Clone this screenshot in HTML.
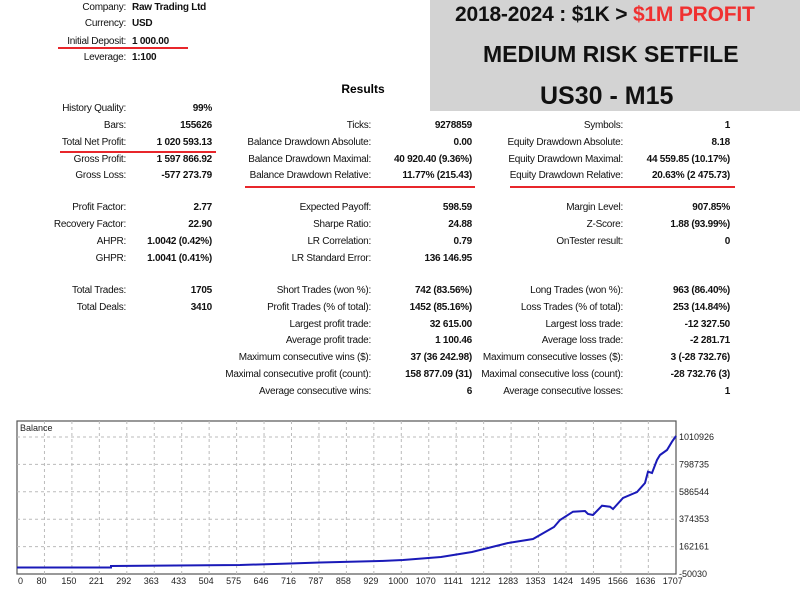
<!DOCTYPE html>
<html><head><meta charset="utf-8"><style>
body{margin:0;width:800px;height:600px;background:#fff;position:relative;overflow:hidden;font-family:"Liberation Sans",sans-serif;}
.l,.v{position:absolute;font-size:10px;letter-spacing:-0.25px;line-height:12px;white-space:nowrap;color:#111;}
.l{text-align:right;}
.v{font-weight:bold;text-align:right;}
.hl{position:absolute;height:2px;background:#e8262b;}
.hd{position:absolute;font-weight:900;color:#111;white-space:nowrap;font-family:"Liberation Sans",sans-serif;}
</style></head><body>
<div style="position:absolute;left:430px;top:0;width:370px;height:111px;background:#d3d3d3"></div>
<div class="hd" style="left:455px;top:3px;font-size:21px;letter-spacing:-0.2px">2018-2024 : $1K &gt; <span style="color:#f03030">$1M PROFIT</span></div>
<div class="hd" style="left:483px;top:41px;font-size:23px;letter-spacing:0px">MEDIUM RISK SETFILE</div>
<div class="hd" style="left:540px;top:82px;font-size:25px;">US30 - M15</div>

<div style="position:absolute;left:320px;top:82px;width:86px;text-align:center;font-weight:bold;font-size:12px">Results</div>

<div id="c"></div>
<div class="hl" style="left:58px;top:47px;width:130px"></div>
<div class="hl" style="left:60px;top:151px;width:156px"></div>
<div class="hl" style="left:245px;top:186px;width:230px"></div>
<div class="hl" style="left:510px;top:186px;width:225px"></div>

<svg style="position:absolute;left:0;top:0" width="800" height="600">
<rect x="17" y="421" width="659" height="153" fill="#fff" stroke="#555" stroke-width="1.2"/>
<g stroke="#bbb" stroke-dasharray="3,3" stroke-width="1" id="g"></g>
<text x="20" y="431" font-size="9" font-family="Liberation Sans" fill="#222">Balance</text>
<polyline fill="none" stroke="#1a1ab8" stroke-width="2" points="17,567.5 111,567.5 111,566 240,565 290,563.5 320,562.5 380,561 403,560 441,557 472,552 508,543 533,539 554,527 560,520 573,511.7 585,511 588,514 593,515 602,505.7 610,506.7 613,509 623,498 637,492 645,483 648,471.7 652,473 657,460 660,455 667,450 672,441.7 676,436"/>
<g font-size="9" font-family="Liberation Sans" fill="#222" id="t"></g>
</svg>
<script>
var g=document.getElementById('g'),t=document.getElementById('t'),ns='http://www.w3.org/2000/svg';
var ys=[437,464.4,491.8,519.2,546.6],yl=['1010926','798735','586544','374353','162161'];
for(var i=0;i<5;i++){var l=document.createElementNS(ns,'line');l.setAttribute('x1',17);l.setAttribute('x2',676);l.setAttribute('y1',ys[i]);l.setAttribute('y2',ys[i]);g.appendChild(l);
var s=document.createElementNS(ns,'text');s.setAttribute('x',679);s.setAttribute('y',ys[i]+3);s.textContent=yl[i];t.appendChild(s);}
var s=document.createElementNS(ns,'text');s.setAttribute('x',679);s.setAttribute('y',577);s.textContent='-50030';t.appendChild(s);
var xl=[0,80,150,221,292,363,433,504,575,646,716,787,858,929,1000,1070,1141,1212,1283,1353,1424,1495,1566,1636,1707];
for(var k=0;k<25;k++){var x=17+k*27.45;if(k>0&&k<24){var l=document.createElementNS(ns,'line');l.setAttribute('x1',x);l.setAttribute('x2',x);l.setAttribute('y1',421);l.setAttribute('y2',574);g.appendChild(l);}
var s=document.createElementNS(ns,'text');s.setAttribute('x',k==0?18:x-3);s.setAttribute('y',584);s.setAttribute('text-anchor',k==0?'start':'middle');s.textContent=xl[k];t.appendChild(s);}
var rows=[
[126,132,7,'Company:','Raw Trading Ltd',1],[126,132,23,'Currency:','USD',1],[126,132,41,'Initial Deposit:','1 000.00',1],[126,132,57,'Leverage:','1:100',1],
[126,212,108,'History Quality:','99%'],[126,212,125,'Bars:','155626'],[126,212,142,'Total Net Profit:','1 020 593.13'],[126,212,159,'Gross Profit:','1 597 866.92'],[126,212,175,'Gross Loss:','-577 273.79'],
[371,472,125,'Ticks:','9278859'],[371,472,142,'Balance Drawdown Absolute:','0.00'],[371,472,159,'Balance Drawdown Maximal:','40 920.40 (9.36%)'],[371,472,175,'Balance Drawdown Relative:','11.77% (215.43)'],
[623,730,125,'Symbols:','1'],[623,730,142,'Equity Drawdown Absolute:','8.18'],[623,730,159,'Equity Drawdown Maximal:','44 559.85 (10.17%)'],[623,730,175,'Equity Drawdown Relative:','20.63% (2 475.73)'],
[126,212,207,'Profit Factor:','2.77'],[126,212,224,'Recovery Factor:','22.90'],[126,212,241,'AHPR:','1.0042 (0.42%)'],[126,212,258,'GHPR:','1.0041 (0.41%)'],
[371,472,207,'Expected Payoff:','598.59'],[371,472,224,'Sharpe Ratio:','24.88'],[371,472,241,'LR Correlation:','0.79'],[371,472,258,'LR Standard Error:','136 146.95'],
[623,730,207,'Margin Level:','907.85%'],[623,730,224,'Z-Score:','1.88 (93.99%)'],[623,730,241,'OnTester result:','0'],
[126,212,290,'Total Trades:','1705'],[126,212,307,'Total Deals:','3410'],
[371,472,290,'Short Trades (won %):','742 (83.56%)'],[371,472,307,'Profit Trades (% of total):','1452 (85.16%)'],[371,472,324,'Largest profit trade:','32 615.00'],[371,472,340,'Average profit trade:','1 100.46'],[371,472,357,'Maximum consecutive wins ($):','37 (36 242.98)'],[371,472,374,'Maximal consecutive profit (count):','158 877.09 (31)'],[371,472,391,'Average consecutive wins:','6'],
[623,730,290,'Long Trades (won %):','963 (86.40%)'],[623,730,307,'Loss Trades (% of total):','253 (14.84%)'],[623,730,324,'Largest loss trade:','-12 327.50'],[623,730,340,'Average loss trade:','-2 281.71'],[623,730,357,'Maximum consecutive losses ($):','3 (-28 732.76)'],[623,730,374,'Maximal consecutive loss (count):','-28 732.76 (3)'],[623,730,391,'Average consecutive losses:','1']];
var h='';rows.forEach(function(r){var y=r[2]-5;
h+='<div class="l" style="right:'+(800-r[0])+'px;top:'+y+'px">'+r[3]+'</div>';
if(r[5])h+='<div class="v" style="left:'+r[1]+'px;top:'+y+'px;text-align:left">'+r[4]+'</div>';
else h+='<div class="v" style="right:'+(800-r[1])+'px;top:'+y+'px">'+r[4]+'</div>';});
document.getElementById('c').innerHTML=h;
</script>
</body></html>
